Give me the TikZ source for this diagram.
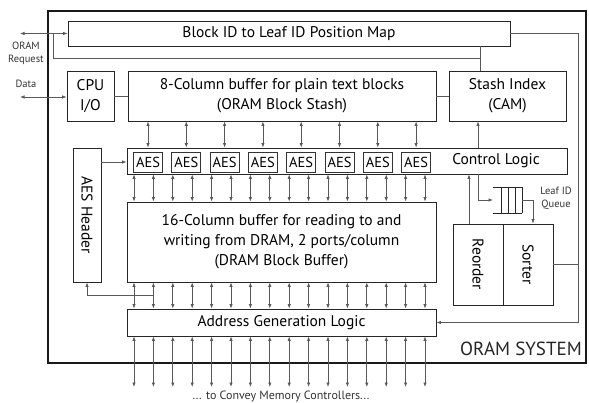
\documentclass[tikz,border=0pt]{standalone}
\usepackage{fontspec}
\setmainfont{PT Sans}
\usetikzlibrary{arrows.meta}
\begin{document}
\begin{tikzpicture}[x=1pt,y=-1pt,
  box/.style={draw=black!85, line width=0.8pt, inner sep=0pt, align=center, font=\fontsize{15.5}{20}\selectfont},
  aesbox/.style={draw=black!80, line width=0.7pt, minimum width=29pt, minimum height=20pt, inner sep=0pt, font=\fontsize{14.5}{14}\selectfont},
  wire/.style={draw=black!65, line width=0.7pt},
  tip/.style={-{Latex[length=4.5pt,width=3.4pt]}},
  bitip/.style={{Latex[length=4.5pt,width=3.4pt]}-{Latex[length=4.5pt,width=3.4pt]}},
  small/.style={font=\fontsize{10.5}{13}\selectfont, text=black!80, align=center, inner sep=0pt}]
\useasboundingbox (0,0) rectangle (589,403);

% system frame
\draw[line width=2.6pt, black!90] (48,11) rectangle (586,363);
\node[anchor=south east, inner sep=0pt, font=\fontsize{19}{19}\selectfont, text=black!85] (sys) at (582,356) {ORAM SYSTEM};

% main blocks
\node[box, minimum width=442pt, minimum height=25pt] (map) at (289,33.5) {Block ID to Leaf ID Position Map};
\node[box, minimum width=47pt, minimum height=50pt] (cpu) at (90.5,96) {CPU\\I/O};
\node[box, minimum width=308pt, minimum height=50pt] (stash) at (282,96) {8-Column buffer for plain text blocks\\(ORAM Block Stash)};
\node[box, minimum width=117pt, minimum height=50pt] (sidx) at (507.5,96) {Stash Index\\(CAM)};
\node[box, minimum width=440pt, minimum height=26pt] (ctrl) at (347,161) {};
\node[anchor=center, font=\fontsize{15.5}{15}\selectfont] (ctrltxt) at (496,161) {Control Logic};
\node[box, minimum width=28pt, minimum height=134pt] (hdr) at (87,215) {};
\node[rotate=-90, font=\fontsize{15.5}{15}\selectfont] (hdrtxt) at (87,215) {AES Header};
\node[box, minimum width=309pt, minimum height=80pt] (dram) at (281.5,242) {16-Column buffer for reading to and\\writing from DRAM, 2 ports/column\\(DRAM Block Buffer)};
\node[box, minimum width=309pt, minimum height=27pt] (agl) at (281.5,322.5) {Address Generation Logic};
\node[box, minimum width=50pt, minimum height=81pt] (reo) at (478,264.5) {};
\node[box, minimum width=50pt, minimum height=81pt] (sort) at (528,264.5) {};
\node[rotate=-90, font=\fontsize{15.5}{15}\selectfont] (reotxt) at (478,264.5) {Reorder};
\node[rotate=-90, font=\fontsize{15.5}{15}\selectfont] (sorttxt) at (528,264.5) {Sorter};

% AES engines inside the control logic
\foreach \i in {0,...,7} {
  \node[aesbox] (aes\i) at ({148+38.3*\i},162) {AES};
  \coordinate (k\i) at ({148+38.3*\i},0);
}
% DRAM column positions
\foreach \j in {0,...,15} {
  \coordinate (d\j) at ({134+19.4*\j},0);
}

% leaf ID queue
\coordinate (qa) at (493,187);
\coordinate (qb) at (522,213);
\draw[black!85, line width=0.8pt] (qa) -- (qa -| qb) (qa |- qb) -- (qb);
\foreach \qx in {501,508,515,522} \draw[black!85, line width=0.8pt] (\qx,187) -- (\qx,213);
\coordinate (qin) at (493,200);
\coordinate (qout) at (522,200);
\node[small] (qlbl) at (556,198) {Leaf ID\\Queue};

% external labels
\node[small] (reqlbl) at (26,53) {ORAM\\Request};
\node[small] (datalbl) at (26,84) {Data};
\node[small, font=\fontsize{12}{12}\selectfont] (memlbl) at (281,396) {... to Convey Memory Controllers...};

% external ports
\coordinate (reqend) at (20,33.5);
\coordinate (dataend) at (20,97);
\draw[wire, bitip] (reqend) -- (map.west);
\draw[wire, bitip] (dataend) -- (cpu.west |- dataend);

% request tap to stash index
\coordinate (tap) at (53,33.5);
\coordinate (tapdown) at (53,58);
\coordinate (tapx) at (480,58);
\draw[wire] (tap) -- (tapdown) -- (tapx);
\draw[wire] (map.south -| tapx) -- (sidx.north -| tapx);

% cpu -- stash -- stash index
\draw[wire] (cpu.east |- stash.center) -- (stash.west);
\draw[wire] (stash.east) -- (sidx.west);

% map to address generation, sorter joins
\coordinate (rail) at (578,33.5);
\draw[wire] (map.east) -- (rail);
\draw[wire, tip] (rail) -- (rail |- agl.east) -- (agl.east);
\draw[wire] (sort.east) -- (sort.east -| rail);

% stash <-> AES
\foreach \i in {0,...,7} \draw[wire, bitip] (stash.south -| k\i) -- (ctrl.north -| k\i);
% control -> stash index
\coordinate (cx) at (478,0);
\draw[wire, tip] (ctrl.north -| cx) -- (sidx.south -| cx);
% header -> control
\draw[wire, tip] (hdr.east |- aes0) -- (ctrl.west |- aes0);

% control <-> dram, dram <-> agl, agl <-> memory
\coordinate (membot) at (0,387);
\foreach \j in {0,...,15} {
  \draw[wire, bitip] (ctrl.south -| d\j) -- (dram.north -| d\j);
  \draw[wire, bitip] (dram.south -| d\j) -- (agl.north -| d\j);
  \draw[wire, bitip] (agl.south -| d\j) -- (membot -| d\j);
}
% dram column to header
\coordinate (hb) at (87,295);
\draw[wire, tip] (hb -| d1) -- (hb) -- (hdr.south);

% control -> queue -> sorter, reorder -> control
\coordinate (qx) at (478,0);
\draw[wire, tip] (ctrl.south -| qx) -- (qx |- qin) -- (qin);
\coordinate (sx) at (533,0);
\draw[wire, tip] (qout) -- (sx |- qout) -- (sx |- sort.north);
\coordinate (rx) at (469,0);
\draw[wire, tip] (reo.north -| rx) -- (ctrl.south -| rx);
\end{tikzpicture}
\end{document}
